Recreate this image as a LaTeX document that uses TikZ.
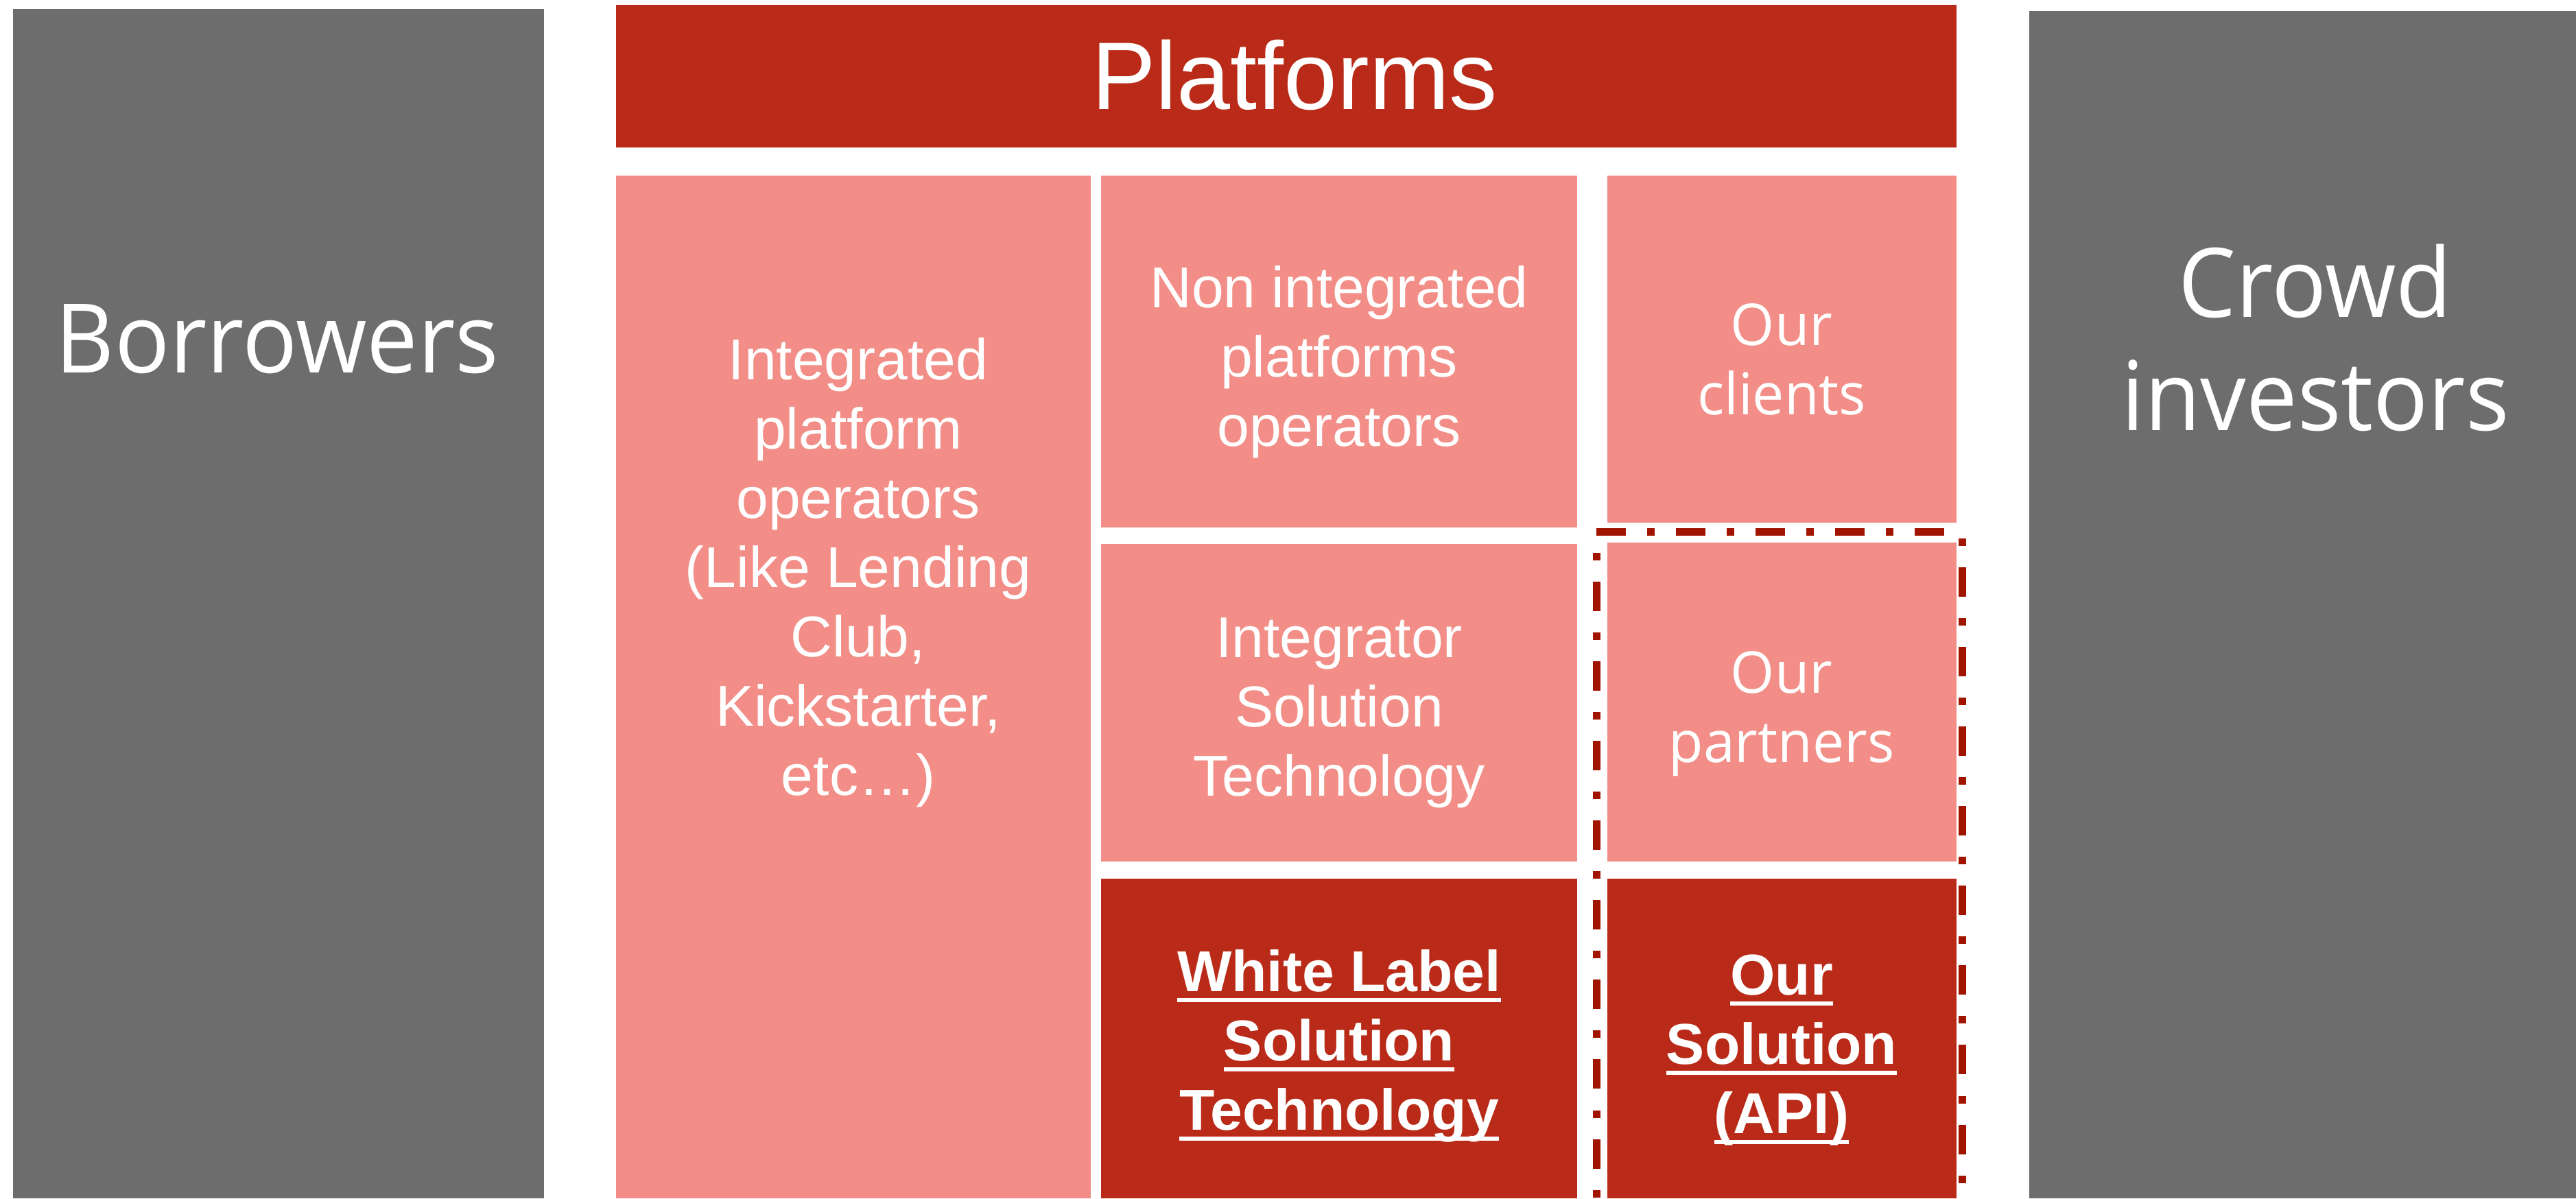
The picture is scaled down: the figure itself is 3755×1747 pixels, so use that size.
\documentclass[tikz,border=0pt]{standalone}
\usepackage{fontspec}
\setmainfont{Liberation Sans}
\newfontfamily\osans[FakeStretch=0.95]{Open Sans}
\newfontfamily\osanssmall[FakeStretch=0.98]{Open Sans}
\definecolor{greybox}{HTML}{6D6D6D}
\definecolor{darkredbox}{HTML}{B92B18}
\definecolor{pinkbox}{HTML}{F28E87}
\definecolor{dashred}{HTML}{A01400}
\newcommand\ulx[1]{\leavevmode\setbox0=\hbox{#1}\rlap{\rule[-0.155cm]{\wd0}{0.055cm}}\box0}
\newcommand\bigfont{\fontsize{1.4cm}{1.65cm}\selectfont}
\newcommand\midfont{\fontsize{0.84cm}{1.01cm}\selectfont}
\newcommand\ptext[2]{\parbox[t]{#1}{\centering\midfont #2}}
\tikzset{
  greyrect/.style={fill=greybox},
  redrect/.style={fill=darkredbox},
  pinkrect/.style={fill=pinkbox},
  label/.style={anchor=base, inner sep=0pt, text=white},
  dashline/.style={draw=dashred, line width=0.11cm, line cap=butt,
    dash pattern=on 0.43cm off 0.31cm on 0.11cm off 0.31cm}
}
\begin{document}
\begin{tikzpicture}[x=0.01cm, y=-0.01cm]
\useasboundingbox (0,0) rectangle (3755,1747);
% boxes
\fill[greyrect] (19,13) rectangle (793,1747);
\fill[redrect] (898,7) rectangle (2852,215);
\fill[greyrect] (2958,16) rectangle (3755,1747);
\fill[pinkrect] (898,256) rectangle (1590,1747);
\fill[pinkrect] (1605,256) rectangle (2299,769);
\fill[pinkrect] (1605,793) rectangle (2299,1256);
\fill[redrect] (1605,1281) rectangle (2299,1747);
\fill[pinkrect] (2343,256) rectangle (2852,762);
\fill[pinkrect] (2343,791) rectangle (2852,1256);
\fill[redrect] (2343,1281) rectangle (2852,1747);
% dash-dot frame
\coordinate (dTL) at (2327,775);
\coordinate (dTR) at (2860,775);
\coordinate (dBL) at (2327,1747);
\coordinate (dBR) at (2860,1747);
\draw[dashline] (dTL) -- (dTR);
\draw[dashline, dash phase=0.43cm] (dTL) -- (dBL);
\draw[dashline, dash phase=0.64cm] (dTR) -- (dBR);
% texts
\node[label, font=\bigfont] (platforms) at (1887,159) {Platforms};
\node[label, font=\bigfont\osans] (borrowers) at (404,543) {Borrowers};
\node[label] (crowd) at (3375,462) {\parbox[t]{7.5cm}{\centering\bigfont\osans Crowd\\investors}};
\node[label] (integ) at (1251,553) {\ptext{6.8cm}{Integrated\\platform\\operators\\(Like Lending\\Club,\\Kickstarter,\\etc…)}};
\node[label] (nonint) at (1952,448) {\ptext{6.8cm}{Non integrated\\platforms\\operators}};
\node[label] (integrator) at (1952,958) {\ptext{6.8cm}{Integrator\\Solution\\Technology}};
\node[label] (whitelabel) at (1952,1445) {\ptext{6.8cm}{\bfseries\ulx{White Label}\\\ulx{Solution}\\\ulx{Technology}}};
\node[label] (clients) at (2597,503) {\ptext{5cm}{\osanssmall Our\\clients}};
\node[label] (partners) at (2597,1010) {\ptext{5cm}{\osanssmall Our\\partners}};
\node[label] (oursol) at (2597,1450) {\ptext{5cm}{\bfseries\ulx{Our}\\\ulx{Solution}\\\ulx{(API)}}};
\end{tikzpicture}
\end{document}
